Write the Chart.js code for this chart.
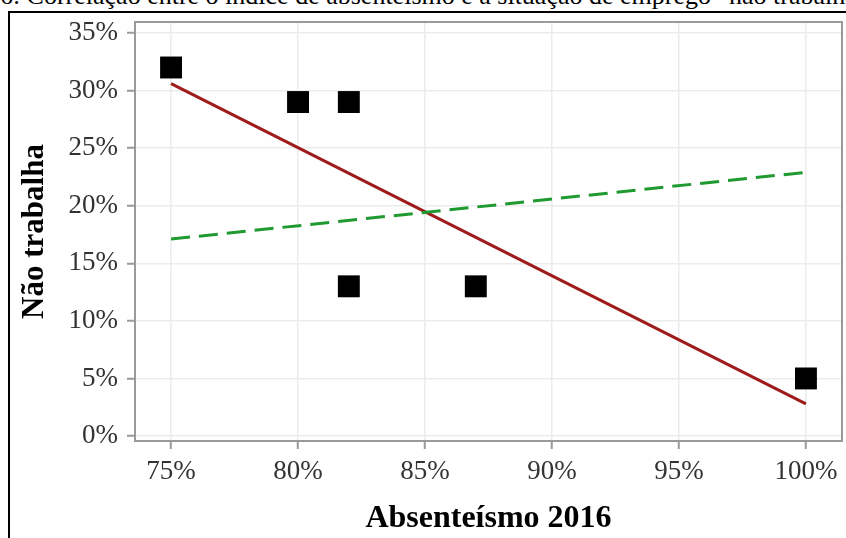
<!DOCTYPE html>
<html>
<head>
<meta charset="utf-8">
<script src="https://cdn.jsdelivr.net/npm/chart.js@4.4.1/dist/chart.umd.min.js"></script>
<style>
    html, body { margin: 0; padding: 0; background: #fff; overflow: hidden; }
    #wrap { position: relative; width: 846px; height: 538px; overflow: hidden; }
    #legenda { position: absolute; left: -86px; top: -17px; font: 26px "Liberation Serif", serif; line-height: 26px; white-space: nowrap; color: #000; }
    #caixa { position: absolute; left: 8px; top: 11px; width: 900px; height: 600px; border: 2px solid #000; box-sizing: border-box; background: #fff; }
    #grafico { position: absolute; left: 0; top: 0; }
</style>
</head>
<body>
<div id="wrap">
    <div id="legenda">Gráfico 6: Correlação entre o índice de absenteísmo e a situação de emprego “não trabalha”</div>
    <div id="caixa"></div>
    <canvas id="grafico" width="846" height="538"></canvas>
</div>
<script>
// dados
const absenteismo = [75, 80, 82, 82, 87, 100];
const naoTrabalha = [32, 29, 29, 13, 13, 5];

// linhas de tendência (extremos)
const tendenciaX = [75, 100];
const tendenciaVermelha = [30.6, 2.8];
const tendenciaVerde = [17.1, 22.9];

const ticksX = [75, 80, 85, 90, 95, 100];
const ticksY = [0, 5, 10, 15, 20, 25, 30, 35];

const pontos = absenteismo.map((x, i) => ({ x: x, y: naoTrabalha[i] }));
const linhaVermelha = tendenciaX.map((x, i) => ({ x: x, y: tendenciaVermelha[i] }));
const linhaVerde = tendenciaX.map((x, i) => ({ x: x, y: tendenciaVerde[i] }));

const fonte = '"Liberation Serif", "Times New Roman", serif';

// moldura cinza à volta da área do gráfico
const moldura = {
    id: 'moldura',
    afterDraw(chart) {
        const a = chart.chartArea;
        const ctx = chart.ctx;
        ctx.save();
        ctx.strokeStyle = '#9a9a9a';
        ctx.lineWidth = 2;
        ctx.strokeRect(a.left, a.top, a.right - a.left, a.bottom - a.top);
        ctx.restore();
    }
};

new Chart(document.getElementById('grafico'), {
    type: 'scatter',
    data: {
        datasets: [
            {
                label: 'Não trabalha',
                data: pontos,
                pointStyle: 'rect',
                pointRadius: 15.5,
                pointHoverRadius: 15.5,
                backgroundColor: '#000',
                borderColor: '#000',
                borderWidth: 0,
                order: 0,
            },
            {
                label: 'Tendência 2',
                data: linhaVerde,
                showLine: true,
                borderColor: '#1e9a30',
                borderWidth: 3,
                borderDash: [19, 9],
                pointRadius: 0,
                order: 1,
            },
            {
                label: 'Tendência',
                data: linhaVermelha,
                showLine: true,
                borderColor: '#9e1b1b',
                borderWidth: 3,
                pointRadius: 0,
                order: 2,
            },
        ],
    },
    options: {
        responsive: false,
        animation: false,
        layout: { autoPadding: false, padding: { left: 10, top: 22, right: 4, bottom: 0 } },
        plugins: {
            legend: { display: false },
            tooltip: { enabled: false },
        },
        scales: {
            x: {
                type: 'linear',
                min: 73.58,
                max: 101.42,
                afterFit: (s) => { s.height = 97; s.paddingLeft = 0; s.paddingRight = 0; },
                afterBuildTicks: (s) => { s.ticks = ticksX.map(v => ({ value: v })); },
                border: { display: false },
                grid: { color: '#ececec', lineWidth: 1.5, tickColor: '#999', tickWidth: 2, tickLength: 8 },
                ticks: {
                    color: '#333',
                    padding: 7,
                    font: { family: fonte, size: 27 },
                    callback: (v) => v + '%',
                },
                title: {
                    display: true,
                    text: 'Absenteísmo 2016',
                    color: '#000',
                    padding: { top: 0, bottom: 0 },
                    font: { family: fonte, size: 32, weight: 'bold' },
                },
            },
            y: {
                type: 'linear',
                min: -0.43,
                max: 35.95,
                afterFit: (s) => { s.width = 125; s.paddingTop = 0; s.paddingBottom = 0; },
                afterBuildTicks: (s) => { s.ticks = ticksY.map(v => ({ value: v })); },
                border: { display: false },
                grid: { color: '#ececec', lineWidth: 1.5, tickColor: '#999', tickWidth: 2, tickLength: 8 },
                ticks: {
                    color: '#333',
                    padding: 9,
                    font: { family: fonte, size: 27 },
                    callback: (v) => v + '%',
                },
                title: {
                    display: true,
                    text: 'Não trabalha',
                    color: '#000',
                    padding: { top: 6, bottom: 0 },
                    font: { family: fonte, size: 31, weight: 'bold' },
                },
            },
        },
    },
    plugins: [moldura],
});
</script>
</body>
</html>
